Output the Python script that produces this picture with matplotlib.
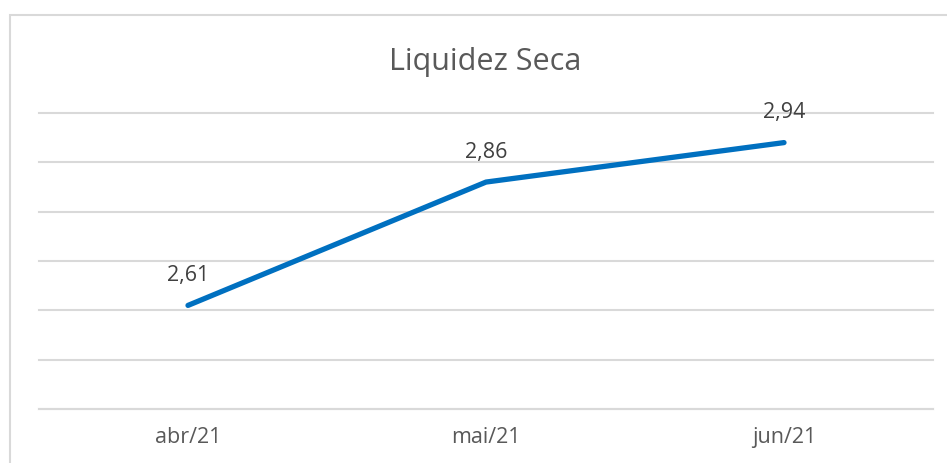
import matplotlib.pyplot as plt
import matplotlib.patches as mpatches

categories = ['abr/21', 'mai/21', 'jun/21']
values = [2.61, 2.86, 2.94]
labels = ['2,61', '2,86', '2,94']

plt.rcParams['font.family'] = ['Open Sans', 'DejaVu Sans']

fig = plt.figure(figsize=(9.47, 4.63), dpi=100)
W, H = 947, 463
ax = fig.add_axes([39 / W, (H - 409) / H, (933 - 39) / W, (409 - 113) / H])

x = range(len(categories))
ax.plot(x, values, color='#0070C0', lw=3.8, solid_capstyle='round', zorder=3)
for xi, v, lab in zip(x, values, labels):
    ax.annotate(lab, (xi, v), xytext=(0, 21.5), textcoords='offset points',
                ha='center', va='center', fontsize=15.5, color='#404040')

ax.set_xlim(-0.5, 2.5)
ax.set_ylim(2.4, 3.0)
ax.set_yticks([2.4, 2.5, 2.6, 2.7, 2.8, 2.9, 3.0])
ax.set_yticklabels([])
ax.tick_params(axis='y', length=0)
ax.grid(axis='y', color='#d9d9d9', lw=1.5)
for gl in ax.get_ygridlines():
    gl.set_clip_on(False)
ax.set_xticks(list(x))
ax.set_xticklabels(categories, fontsize=15.5, color='#595959')
ax.tick_params(axis='x', length=0, pad=13)
for s in ['top', 'right', 'left']:
    ax.spines[s].set_visible(False)
ax.spines['bottom'].set_color('#d9d9d9')
ax.spines['bottom'].set_linewidth(1.5)

fig.text(485 / W, 1 - 62 / H, 'Liquidez Seca', ha='center', va='center',
         fontsize=22, color='#595959')

border = mpatches.Rectangle((9.5 / W, -0.1), 1.2, (H - 14.5) / H + 0.1,
                            transform=fig.transFigure, fill=False,
                            edgecolor='#d9d9d9', lw=1.5)
fig.patches.append(border)

fig.savefig('out.png', dpi=100)
